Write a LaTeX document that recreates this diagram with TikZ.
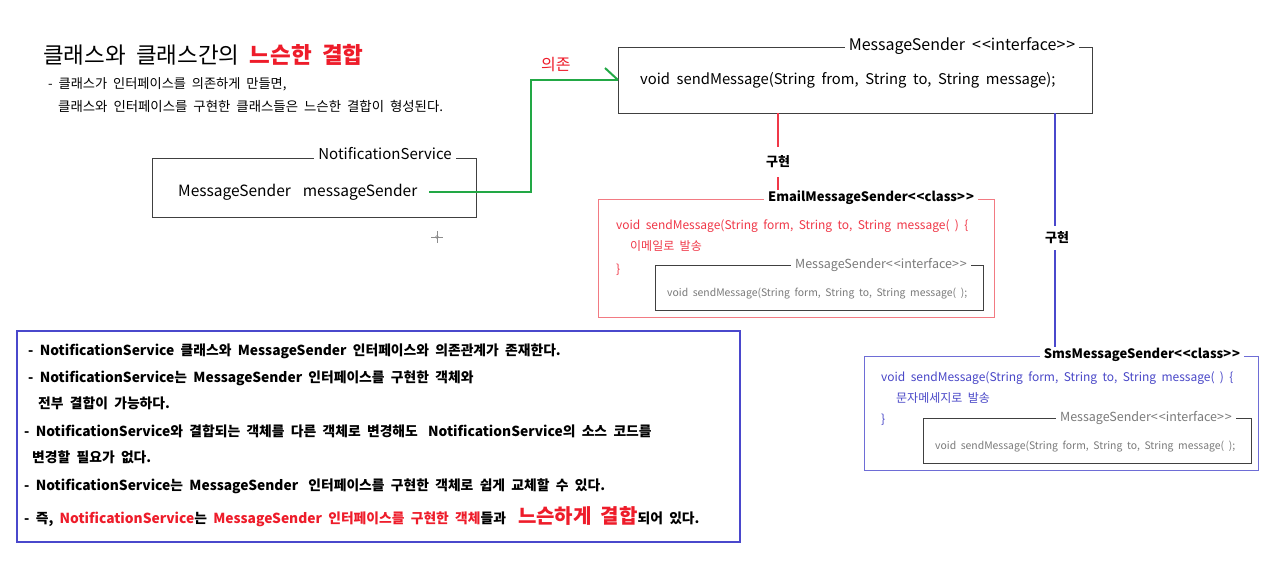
\documentclass[tikz,border=0pt]{standalone}
\usepackage{fontspec}
\setmainfont[WordSpace=2]{Noto Sans CJK KR}
\definecolor{tred}{HTML}{EE1C2A}
\definecolor{ered}{HTML}{F03848}
\definecolor{eborder}{HTML}{F27A82}
\definecolor{gline}{HTML}{22A845}
\definecolor{bline}{HTML}{4A48CC}
\definecolor{stxt}{HTML}{4A48C8}
\definecolor{gtxt}{HTML}{7A7A7A}
\newcommand{\ltlt}{<\kern1pt<}
\newcommand{\gtgt}{>\kern1pt>}
\begin{document}
\begin{tikzpicture}[x=1pt,y=-1pt,
  frame/.style={draw=#1, line width=1pt, inner sep=0pt, outer sep=0pt, anchor=north west},
  ttl/.style={fill=white, inner xsep=4pt, inner ysep=1pt, font=\fontsize{#1}{#1}\selectfont},
  txt/.style={anchor=west, inner sep=0pt, font=\fontsize{#1}{#1}\selectfont},
  lbl/.style={fill=white, inner xsep=1pt, font=\bfseries\fontsize{13}{13}\selectfont}]
\useasboundingbox (0,0) rectangle (1278,566);
\fill[white] (0,0) rectangle (1278,566);

% title
\node[txt=22.5] (title) at (43,55) {클래스와 클래스간의 \textcolor{tred}{\bfseries 느슨한 결합}};
\node[txt=13.2] (sub1) at (48,84) {- 클래스가 인터페이스를 의존하게 만들면,};
\node[txt=13.4] (sub2) at (58,106) {클래스와 인터페이스를 구현한 클래스들은 느슨한 결합이 형성된다.};

% NotificationService
\node[frame=black!75, minimum width=324pt, minimum height=59pt] (ns) at (152,158) {};
\node[txt=15.5] (nsvar) at (178,192) {MessageSender\hspace{12pt}messageSender};

% small cursor mark
\draw[black!45, line width=0.6pt] (431,237) -- (443,237) (437,231) -- (437,243);
\draw[black!45, line width=0.6pt] (437,237) circle (1.5);

% MessageSender interface
\node[frame=black!75, minimum width=474pt, minimum height=66pt] (ms) at (618,47) {};
\node[txt=14.8] (mstxt) at (640,80) {void sendMessage(String from, String to, String message);};

% Email
\node[frame=eborder, minimum width=396pt, minimum height=118pt] (em) at (598,199) {};
\node[txt=12, text=ered] (em1) at (616,226) {void sendMessage(String form, String to, String message( ) \{};
\node[txt=12, text=ered] (em2) at (630,246) {이메일로 발송};
\node[txt=12, text=ered] (em3) at (616,270) {\}};
\node[frame=black!75, minimum width=328pt, minimum height=45pt] (emi) at (655,265) {};
\node[txt=10.4, text=gtxt] (emi1) at (667,294) {void sendMessage(String form, String to, String message( );};

% Sms
\node[frame=bline!80, minimum width=394pt, minimum height=114pt] (sm) at (864,356) {};
\node[txt=12, text=stxt] (sm1) at (881,378) {void sendMessage(String form, String to, String message( ) \{};
\node[txt=12, text=stxt] (sm2) at (896,398) {문자메세지로 발송};
\node[txt=12, text=stxt] (sm3) at (881,420) {\}};
\node[frame=black!75, minimum width=328pt, minimum height=45pt] (smi) at (923,418) {};
\node[txt=10.4, text=gtxt] (smi1) at (935,447) {void sendMessage(String form, String to, String message( );};

% connectors
\coordinate (gbend) at (531,192);
\draw[gline, line width=2pt] ([xshift=12pt]nsvar.east) -- (gbend) |- (ms.west);
\draw[gline, line width=2pt] (ms.west) -- ++(-13,-12);
\node[txt=16, text=tred] (dep) at (541,65) {의존};

\path (ms.south west) ++(160,0) coordinate (rtop);
\draw[ered, line width=2pt] (rtop) -- (rtop |- em.north);
\node[lbl, inner ysep=9pt] (rimpl) at (778,162) {구현};

\path (ms.south east) ++(-37,0) coordinate (btop);
\draw[bline, line width=2pt] (btop) -- (btop |- sm.north);
\node[lbl, inner ysep=6pt] (bimpl) at (1057,238) {구현};

% titles
\node[ttl=15] (nsT) at (385,154) {NotificationService};
\node[ttl=16] (msT) at (962,46) {MessageSender \ltlt interface\gtgt};
\node[ttl=13, font=\bfseries\fontsize{13}{13}\selectfont] (emT) at (871,198) {EmailMessageSender\ltlt class\gtgt};
\node[ttl=12.5, text=gtxt] (emiT) at (881,265) {MessageSender\ltlt interface\gtgt};
\node[ttl=13, font=\bfseries\fontsize{13}{13}\selectfont] (smT) at (1142,355) {SmsMessageSender\ltlt class\gtgt};
\node[ttl=12.5, text=gtxt] (smiT) at (1146,418) {MessageSender\ltlt interface\gtgt};

% bottom box
\node[frame=bline, line width=1.6pt, minimum width=723pt, minimum height=211pt] (note) at (17,331) {};
\node[txt=13.8] (n1) at (28,351) {\bfseries - NotificationService 클래스와 MessageSender 인터페이스와 의존관계가 존재한다.};
\node[txt=13.8] (n2) at (28,378) {\bfseries - NotificationService는 MessageSender 인터페이스를 구현한 객체와};
\node[txt=13.8] (n3) at (38,403) {\bfseries 전부 결합이 가능하다.};
\node[txt=13.8] (n4) at (24,431) {\bfseries - NotificationService와 결합되는 객체를 다른 객체로 변경해도\hspace{4pt} NotificationService의 소스 코드를};
\node[txt=13.8] (n5) at (32,457) {\bfseries 변경할 필요가 없다.};
\node[txt=13.8] (n6) at (24,486) {\bfseries - NotificationService는 MessageSender\hspace{4pt} 인터페이스를 구현한 객체로 쉽게 교체할 수 있다.};
\node[txt=13.8] (n7) at (24,517) {\bfseries - 즉, \textcolor{tred}{NotificationService}는 \textcolor{tred}{MessageSender 인터페이스를 구현한 객체}들과\hspace{12pt}{\color{tred}\fontsize{20}{20}\selectfont 느슨하게 결합}되어 있다.};
\end{tikzpicture}
\end{document}
